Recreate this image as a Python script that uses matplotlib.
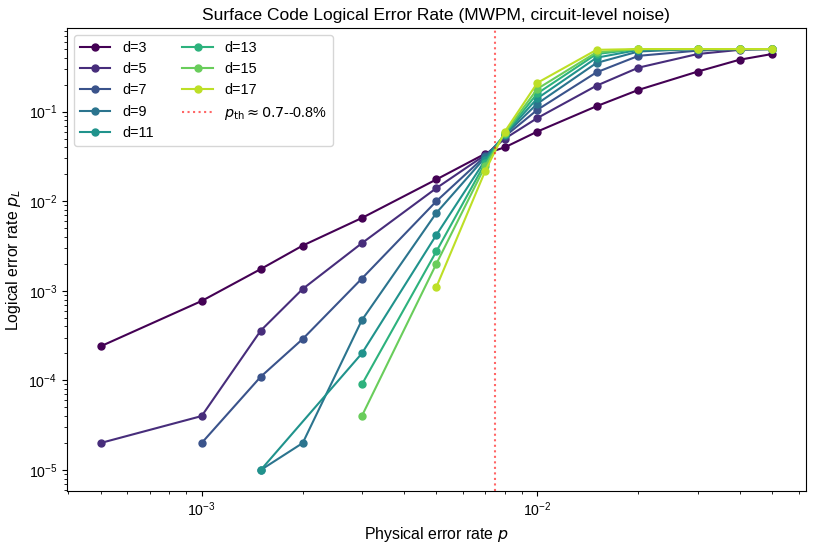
import numpy as np
import matplotlib
matplotlib.use('Agg')
import matplotlib.pyplot as plt

plt.rcParams['font.family'] = ['Liberation Sans', 'DejaVu Sans']
plt.rcParams['font.size'] = 10

# physical error rates
p_all = [5e-4, 1e-3, 1.5e-3, 2e-3, 3e-3, 5e-3, 7e-3, 8e-3, 1e-2, 1.5e-2, 2e-2, 3e-2, 4e-2, 5e-2]
p_high = [5e-3, 7e-3, 8e-3, 1e-2, 1.5e-2, 2e-2, 3e-2, 4e-2, 5e-2]

distances = [3, 5, 7, 9, 11, 13, 15, 17]

# logical error rates per distance
p_d3 = p_all
pl_d3 = [2.4e-4, 7.7e-4, 1.75e-3, 3.2e-3, 6.5e-3, 1.75e-2, 3.4e-2, 4.0e-2, 6.0e-2, 1.15e-1, 1.75e-1, 2.8e-1, 3.8e-1, 4.4e-1]

p_d5 = p_all
pl_d5 = [2.0e-5, 4.0e-5, 3.6e-4, 1.05e-3, 3.4e-3, 1.4e-2, 3.3e-2, 5.0e-2, 8.5e-2, 1.95e-1, 3.1e-1, 4.4e-1, 4.9e-1, 5.0e-1]

p_d7 = p_all[1:]
pl_d7 = [2.0e-5, 1.1e-4, 2.9e-4, 1.37e-3, 1.0e-2, 3.2e-2, 5.3e-2, 1.05e-1, 2.75e-1, 4.2e-1, 4.8e-1, 5.0e-1, 5.0e-1]

p_d9 = p_all[2:]
pl_d9 = [1.0e-5, 2.0e-5, 4.7e-4, 7.4e-3, 3.1e-2, 5.5e-2, 1.23e-1, 3.5e-1, 4.7e-1, 5.0e-1, 5.0e-1, 5.0e-1]

p_d11 = [1.5e-3, 3e-3] + p_high
pl_d11 = [1.0e-5, 2.0e-4, 4.2e-3, 2.9e-2, 5.6e-2, 1.41e-1, 4.0e-1, 4.9e-1, 5.0e-1, 5.0e-1, 5.0e-1]

p_d13 = [3e-3] + p_high
pl_d13 = [9.0e-5, 2.75e-3, 2.7e-2, 5.7e-2, 1.6e-1, 4.4e-1, 5.0e-1, 5.0e-1, 5.0e-1, 5.0e-1]

p_d15 = [3e-3] + p_high
pl_d15 = [4.0e-5, 2.0e-3, 2.5e-2, 5.8e-2, 1.8e-1, 4.6e-1, 5.0e-1, 5.0e-1, 5.0e-1, 5.0e-1]

p_d17 = p_high
pl_d17 = [1.1e-3, 2.2e-2, 6.0e-2, 2.1e-1, 4.9e-1, 5.0e-1, 5.0e-1, 5.0e-1, 5.0e-1]

p_series = [p_d3, p_d5, p_d7, p_d9, p_d11, p_d13, p_d15, p_d17]
pl_series = [pl_d3, pl_d5, pl_d7, pl_d9, pl_d11, pl_d13, pl_d15, pl_d17]

p_threshold = 7.5e-3

fig = plt.figure(figsize=(8.13, 5.49), dpi=100)
ax = fig.add_axes([0.0824, 0.1056, 0.9086, 0.8434])

colors = plt.cm.viridis(np.linspace(0, 0.9, len(distances)))
for d, p, pl, c in zip(distances, p_series, pl_series, colors):
    ax.plot(p, pl, 'o-', color=c, lw=1.5, ms=5, label=f'd={d}')

ax.axvline(p_threshold, color='red', ls=':', lw=1.5, alpha=0.6,
           label=r'$p_{\rm th} \approx 0.7$--0.8%')

ax.set_xscale('log')
ax.set_yscale('log')
ax.tick_params(labelsize=10.2)
ax.set_xlabel(r'Physical error rate $p$', fontsize=11.4)
ax.set_ylabel(r'Logical error rate $p_L$', fontsize=11.4)
ax.set_title('Surface Code Logical Error Rate (MWPM, circuit-level noise)', fontsize=12.5)
ax.legend(loc='upper left', ncol=2, fontsize=10.4, handlelength=2.1)

fig.savefig('out.png', dpi=100)
